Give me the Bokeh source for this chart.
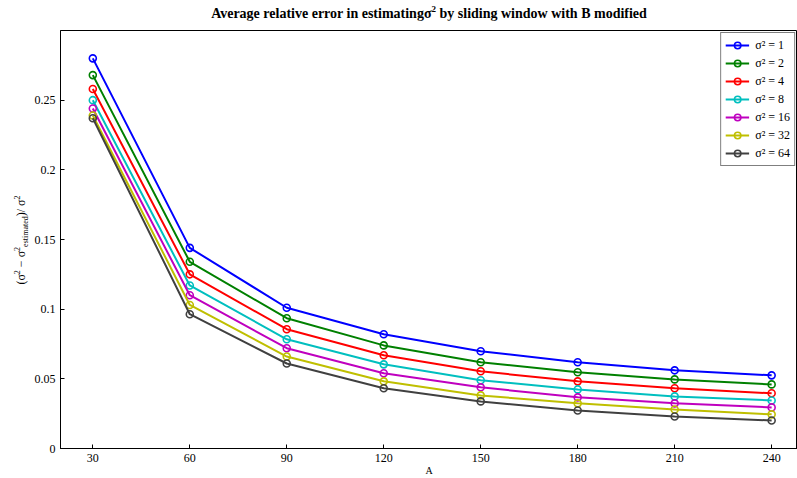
from bokeh.plotting import figure
from bokeh.models import Range1d, FixedTicker, Div
from bokeh.layouts import row, column
from bokeh.embed import file_html
from bokeh.resources import INLINE

# Window length A and relative error for each noise variance
A = [30, 60, 90, 120, 150, 180, 210, 240]
err_s1 = [0.280, 0.144, 0.101, 0.082, 0.0698, 0.0619, 0.0561, 0.0525]
err_s2 = [0.268, 0.134, 0.0935, 0.074, 0.0619, 0.0547, 0.0496, 0.046]
err_s4 = [0.258, 0.125, 0.0856, 0.0669, 0.0554, 0.0482, 0.0432, 0.0396]
err_s8 = [0.250, 0.117, 0.0784, 0.0604, 0.049, 0.0424, 0.0374, 0.0345]
err_s16 = [0.244, 0.110, 0.072, 0.054, 0.0439, 0.0367, 0.0324, 0.0295]
err_s32 = [0.239, 0.103, 0.066, 0.0482, 0.0381, 0.0324, 0.028, 0.0245]
err_s64 = [0.237, 0.0964, 0.061, 0.0432, 0.0338, 0.0273, 0.023, 0.0201]

series_labels = ["σ² = 1", "σ² = 2", "σ² = 4", "σ² = 8", "σ² = 16", "σ² = 32", "σ² = 64"]
series_values = [err_s1, err_s2, err_s4, err_s8, err_s16, err_s32, err_s64]
series_colors = ["#0000ff", "#008000", "#ff0000", "#00bfbf", "#bf00bf", "#bfbf00", "#404040"]

y_ticks = [0, 0.05, 0.1, 0.15, 0.2, 0.25]
y_tick_text = ["0", "0.05", "0.1", "0.15", "0.2", "0.25"]

FONT = "Liberation Serif"
W, H = 797, 478
LABEL_W = 28     # strip holding the vertical y axis title
TITLE_H = 20     # strip holding the chart title

p = figure(width=W - LABEL_W, height=H - TITLE_H, output_backend="svg",
           toolbar_location=None,
           x_range=Range1d(20, 248), y_range=Range1d(0, 0.3),
           min_border_left=60 - LABEL_W, min_border_right=0,
           min_border_top=30 - TITLE_H, min_border_bottom=30)
p.title.text = ""

p.xgrid.visible = False
p.ygrid.visible = False
p.outline_line_color = "black"
p.outline_line_width = 1
p.background_fill_color = "white"
p.border_fill_color = "white"

for lbl, vals, col in zip(series_labels, series_values, series_colors):
    p.line(A, vals, line_color=col, line_width=2, legend_label=lbl)
    p.scatter(A, vals, marker="circle", size=7, fill_color=None, line_color=col,
              line_width=1.6, legend_label=lbl)

xa = p.xaxis[0]
xa.ticker = FixedTicker(ticks=A)
xa.axis_label = "A"
ya = p.yaxis[0]
ya.ticker = FixedTicker(ticks=y_ticks)
ya.major_label_overrides = {t: s for t, s in zip(y_ticks, y_tick_text)}
for ax in (xa, ya):
    ax.major_tick_in = 4
    ax.major_tick_out = 0
    ax.minor_tick_line_color = None
    ax.axis_line_color = "black"
    ax.major_tick_line_color = "black"
    ax.major_label_text_font = FONT
    ax.major_label_text_font_size = "12px"
    ax.major_label_text_color = "black"
    ax.axis_label_text_font = FONT
    ax.axis_label_text_font_size = "10px"
    ax.axis_label_text_font_style = "normal"
    ax.axis_label_text_color = "black"
xa.major_label_standoff = 5
xa.axis_label_standoff = 0
ya.major_label_standoff = 5

lg = p.legend[0]
lg.location = "top_right"
lg.margin = 2
lg.padding = 4
lg.spacing = 2
lg.glyph_width = 24
lg.glyph_height = 16
lg.label_height = 16
lg.label_standoff = 6
lg.label_text_font = FONT
lg.label_text_font_size = "12px"
lg.label_text_color = "black"
lg.border_line_color = "black"
lg.border_line_width = 1
lg.background_fill_color = "white"
lg.background_fill_alpha = 1

# chart title, centred over the plot frame, with a real superscript
title_html = (
    '<div style="position:relative; width:%dpx; height:%dpx;">'
    '<span style="position:absolute; left:429px; top:13px; white-space:nowrap; '
    "transform:translate(-50%%,-50%%); font-family:'Liberation Serif'; font-size:14px; "
    'font-weight:bold; color:black; line-height:1;">'
    'Average relative error in estimatingσ<sup style="font-size:9px">2</sup> '
    'by sliding window with B modified</span></div>' % (W, TITLE_H)
)
title_div = Div(text=title_html, width=W, height=TITLE_H, margin=0)

# vertical y axis title with real super- and subscripts
ylabel_html = (
    '<div style="position:relative; width:%dpx; height:%dpx;">'
    '<span style="position:absolute; left:22px; top:%dpx; white-space:nowrap; '
    "transform:translate(-50%%,-50%%) rotate(-90deg); font-family:'Liberation Serif'; "
    'font-size:12px; color:black; line-height:1;">'
    '(σ<sup style="font-size:8px">2</sup> − σ<sup style="font-size:8px">2</sup>'
    '<sub style="font-size:8px">estimated</sub>)/ σ<sup style="font-size:8px">2</sup>'
    '</span></div>' % (LABEL_W, H - TITLE_H, 240 - TITLE_H)
)
ylabel_div = Div(text=ylabel_html, width=LABEL_W, height=H - TITLE_H, margin=0)

layout = column(title_div, row(ylabel_div, p, spacing=0), spacing=0)

open("out.html", "w").write(file_html(layout, INLINE))
